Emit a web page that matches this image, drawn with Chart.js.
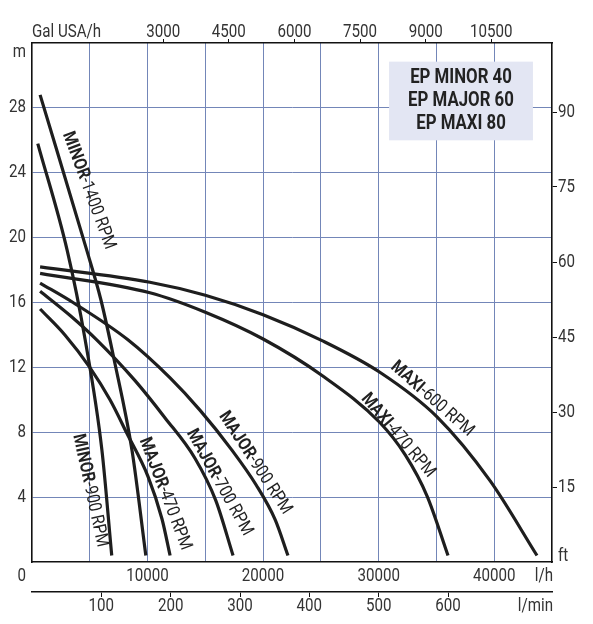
<!DOCTYPE html>
<html>
<head>
<meta charset="utf-8">
<script src="https://cdn.jsdelivr.net/npm/chart.js@4.4.0/dist/chart.umd.min.js"></script>
<style>
  html, body { margin: 0; padding: 0; background: #fff; }
</style>
</head>
<body>
<canvas id="pumpChart" width="593" height="624"></canvas>
<script>
// Tick values for every axis
const gridLh = [5000, 10000, 15000, 20000, 25000, 30000, 35000, 40000];
const lhTicks = [10000, 20000, 30000, 40000];
const galTicks = [3000, 4500, 6000, 7500, 9000, 10500];
const lminTicks = [100, 200, 300, 400, 500, 600];
const mTicks = [4, 8, 12, 16, 20, 24, 28];
const ftTicks = [15, 30, 45, 60, 75, 90];

// Curves: flow in l/h, head in m
const minor1400Q = [700, 4750, 5950, 7100, 8650, 9850];
const minor1400H = [28.8, 19.2, 16.2, 12.5, 6.9, 0.4];
const minor900Q = [500, 3050, 4600, 6050, 6900];
const minor900H = [25.8, 19.2, 13.7, 6.9, 0.4];
const major470Q = [700, 2850, 5000, 6750, 8200, 10050, 11250, 11950];
const major470H = [15.6, 14.0, 12.0, 10.0, 7.95, 5.25, 2.65, 0.4];
const major700Q = [700, 3300, 5600, 8900, 11500, 14100, 15900, 17400];
const major700H = [16.7, 15.2, 13.7, 11.2, 8.9, 6.4, 3.8, 0.4];
const major900Q = [700, 3550, 8300, 11950, 14550, 17300, 19400, 21050, 22150];
const major900H = [17.2, 16.0, 13.7, 11.35, 9.35, 6.9, 4.75, 2.6, 0.4];
const maxi470Q = [700, 10200, 15000, 20000, 25100, 30100, 32300, 34200, 36000];
const maxi470H = [17.8, 16.6, 15.4, 13.75, 11.5, 8.6, 6.6, 4.05, 0.4];
const maxi600Q = [700, 10200, 15000, 20000, 25100, 30100, 35050, 39650, 43700];
const maxi600H = [18.2, 17.25, 16.45, 15.25, 13.65, 11.7, 8.95, 5.0, 0.4];

// Curve labels
const labelNames = ['MINOR', 'MINOR', 'MAJOR', 'MAJOR', 'MAJOR', 'MAXI', 'MAXI'];
const labelRpm = ['-1400 RPM', '-900 RPM', '-470 RPM', '-700 RPM', '-900 RPM', '-600 RPM', '-470 RPM'];
const labelQ = [4900, 5020, 11510, 16200, 19300, 34620, 31670];
const labelH = [22.9, 4.4, 4.2, 4.9, 6.1, 10.05, 7.8];
const labelAngle = [69.6, 77.6, 69, 61, 56.8, 41.4, 49.6];

const models = ['EP MINOR 40', 'EP MAJOR 60', 'EP MAXI 80'];

const GRID = '#7386b8';
const INK = '#1e1e1e';
const SQ = 0.84; // horizontal squeeze for a condensed look

function pts(q, h) {
  return q.map((v, i) => ({ x: v, y: h[i] }));
}

function curve(q, h) {
  return {
    data: pts(q, h),
    borderColor: INK,
    borderWidth: 3.2,
    pointRadius: 0,
    cubicInterpolationMode: 'monotone',
    fill: false,
    xAxisID: 'x',
    yAxisID: 'y'
  };
}

function fixTicks(values) {
  return function(scale) {
    scale.ticks = values.map(v => ({ value: v }));
  };
}

function txt(ctx, s, x, y, font, align) {
  ctx.save();
  ctx.translate(x, y);
  ctx.scale(SQ, 1);
  ctx.font = font;
  ctx.textAlign = align || 'center';
  ctx.textBaseline = 'middle';
  ctx.fillText(s, 0, 0);
  ctx.restore();
}

const textPlugin = {
  id: 'pumpText',
  afterDatasetsDraw(chart) {
    const ctx = chart.ctx;
    const s = chart.scales;
    const area = chart.chartArea;
    const axisFont = '18px Roboto';

    // model box
    const bx1 = s.x.getPixelForValue(30900), bx2 = s.x.getPixelForValue(43350);
    const by1 = s.y.getPixelForValue(30.85), by2 = s.y.getPixelForValue(26.0);
    ctx.save();
    ctx.fillStyle = '#e3e6f3';
    ctx.fillRect(bx1, by1, bx2 - bx1, by2 - by1);
    ctx.fillStyle = '#222';
    const bcx = (bx1 + bx2) / 2;
    models.forEach((m, i) => {
      txt(ctx, m, bcx, by1 + 16.5 + i * 23, 'bold 20px Roboto', 'center');
    });

    // curve labels
    labelNames.forEach((name, i) => {
      const px = s.x.getPixelForValue(labelQ[i]);
      const py = s.y.getPixelForValue(labelH[i]);
      ctx.save();
      ctx.translate(px, py);
      ctx.rotate(labelAngle[i] * Math.PI / 180);
      ctx.scale(0.85, 1);
      ctx.textBaseline = 'middle';
      ctx.textAlign = 'left';
      ctx.font = 'bold 18px Roboto';
      const w1 = ctx.measureText(name).width;
      ctx.font = '18px Roboto';
      const w2 = ctx.measureText(labelRpm[i]).width;
      const x0 = -(w1 + w2) / 2;
      ctx.font = 'bold 18px Roboto';
      ctx.fillText(name, x0, 0);
      ctx.font = '18px Roboto';
      ctx.fillText(labelRpm[i], x0 + w1, 0);
      ctx.restore();
    });

    // axis texts
    ctx.fillStyle = '#333';
    lhTicks.forEach(v => txt(ctx, String(v), s.x.getPixelForValue(v), area.bottom + 14, axisFont));
    txt(ctx, '0', area.left - 6, area.bottom + 14, axisFont, 'right');
    txt(ctx, 'l/h', area.right + 1, area.bottom + 14, axisFont, 'right');
    lminTicks.forEach(v => txt(ctx, String(v), s.xmin.getPixelForValue(v), area.bottom + 44, axisFont));
    txt(ctx, 'l/min', area.right + 1, area.bottom + 44, axisFont, 'right');
    galTicks.forEach(v => txt(ctx, String(v), s.xgal.getPixelForValue(v), area.top - 11, axisFont));
    txt(ctx, 'Gal USA/h', area.left, area.top - 11, axisFont, 'left');
    mTicks.forEach(v => txt(ctx, String(v), area.left - 6, s.y.getPixelForValue(v), axisFont, 'right'));
    txt(ctx, 'm', area.left - 6, area.top + 9, axisFont, 'right');
    ftTicks.forEach(v => txt(ctx, String(v), area.right + 6, s.yft.getPixelForValue(v), axisFont, 'left'));
    txt(ctx, 'ft', area.right + 6, area.bottom - 6, axisFont, 'left');
    ctx.restore();
  }
};

const border = { color: '#111', width: 1.6 };

new Chart(document.getElementById('pumpChart'), {
  type: 'line',
  data: {
    datasets: [
      curve(minor1400Q, minor1400H),
      curve(minor900Q, minor900H),
      curve(major470Q, major470H),
      curve(major700Q, major700H),
      curve(major900Q, major900H),
      curve(maxi470Q, maxi470H),
      curve(maxi600Q, maxi600H)
    ]
  },
  options: {
    responsive: false,
    animation: false,
    devicePixelRatio: 1,
    layout: { padding: 0 },
    plugins: {
      legend: { display: false },
      tooltip: { enabled: false }
    },
    scales: {
      x: {
        type: 'linear',
        position: 'bottom',
        weight: 0,
        min: 0,
        max: 45000,
        afterBuildTicks: fixTicks(gridLh),
        afterFit: sc => { sc.height = 30; },
        grid: { color: GRID, lineWidth: 1, drawTicks: false },
        border: border,
        ticks: { display: false }
      },
      xmin: {
        type: 'linear',
        position: 'bottom',
        weight: 1,
        min: 0,
        max: 750,
        afterBuildTicks: fixTicks(lminTicks),
        afterFit: sc => { sc.height = 32; },
        grid: { drawOnChartArea: false, color: '#111', tickLength: 5 },
        border: border,
        ticks: { display: false }
      },
      xgal: {
        type: 'linear',
        position: 'top',
        min: 0,
        max: 45000 / 3.785,
        afterBuildTicks: fixTicks(galTicks),
        afterFit: sc => { sc.height = 43; },
        grid: { drawOnChartArea: false, color: '#111', tickLength: 4 },
        border: border,
        ticks: { display: false }
      },
      y: {
        type: 'linear',
        position: 'left',
        min: 0,
        max: 32,
        afterBuildTicks: fixTicks(mTicks),
        afterFit: sc => { sc.width = 32; },
        grid: { color: GRID, lineWidth: 1, drawTicks: false },
        border: border,
        ticks: { display: false }
      },
      yft: {
        type: 'linear',
        position: 'right',
        min: 0,
        max: 103.8,
        afterBuildTicks: fixTicks(ftTicks),
        afterFit: sc => { sc.width = 41; },
        grid: { drawOnChartArea: false, color: '#111', tickLength: 5 },
        border: border,
        ticks: { display: false }
      }
    }
  },
  plugins: [textPlugin]
});
</script>
</body>
</html>
